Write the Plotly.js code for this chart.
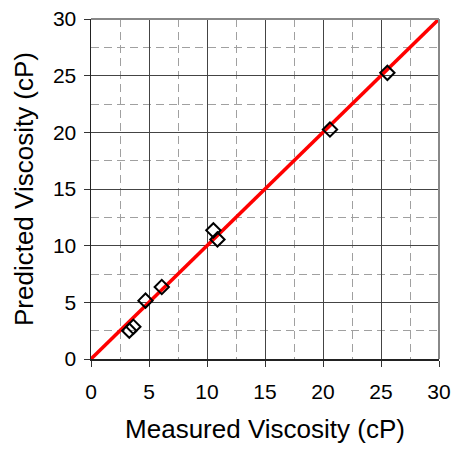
<!DOCTYPE html>
<html>
<head>
<meta charset="utf-8">
<script src="https://cdn.plot.ly/plotly-3.0.1.min.js"></script>
<style>html,body{margin:0;padding:0;background:#fff}</style>
</head>
<body>
<div id="chart" style="width:455px;height:455px"></div>
<script>
const measured = [3.3, 3.65, 4.7, 6.1, 10.55, 10.9, 20.6, 25.55];
const predicted = [2.5, 2.85, 5.15, 6.35, 11.35, 10.55, 20.25, 25.25];
const lineX = [0, 30];
const lineY = [0, 30];
const tickVals = [0, 5, 10, 15, 20, 25, 30];

const traces = [
  {x: lineX, y: lineY, mode: 'lines', line: {color: '#ff0000', width: 3.5}, hoverinfo: 'skip'},
  {x: measured, y: predicted, mode: 'markers',
   marker: {symbol: 'diamond-open', size: 11, color: '#000', line: {color: '#000', width: 2}}}
];

const FONT = 'Liberation Sans, Arial, sans-serif';
const axisCommon = {
  range: [0, 30], tickvals: tickVals, ticks: 'outside', ticklen: 6, tickwidth: 1, tickcolor: '#333',
  showline: true, linecolor: '#222', linewidth: 1.5, showgrid: true, gridcolor: '#444', gridwidth: 1,
  zeroline: false, tickfont: {family: FONT, size: 21, color: '#000'},
  minor: {dtick: 2.5, showgrid: true, gridcolor: '#a0a0a0', gridwidth: 1, griddash: '8px,5px', ticks: ''},
  fixedrange: true
};

const layout = {
  width: 455, height: 455,
  margin: {l: 91, r: 16, t: 19, b: 96},
  showlegend: false,
  paper_bgcolor: '#fff', plot_bgcolor: '#fff',
  xaxis: Object.assign({}, axisCommon, {
    ticklabelstandoff: 7,
    title: {text: 'Measured Viscosity (cP)', font: {family: FONT, size: 26, color: '#000'}, standoff: 18}
  }),
  yaxis: Object.assign({}, axisCommon, {
    ticklabelstandoff: 3,
    title: {text: 'Predicted Viscosity (cP)', font: {family: FONT, size: 26, color: '#000'}, standoff: 12}
  }),
  shapes: [
    {type: 'line', xref: 'paper', yref: 'paper', x0: 0, x1: 1, y0: 1, y1: 1, line: {color: '#888', width: 2}},
    {type: 'line', xref: 'paper', yref: 'paper', x0: 1, x1: 1, y0: 0, y1: 1, line: {color: '#888', width: 2}}
  ]
};

Plotly.newPlot('chart', traces, layout, {displayModeBar: false, staticPlot: true});
</script>
</body>
</html>
